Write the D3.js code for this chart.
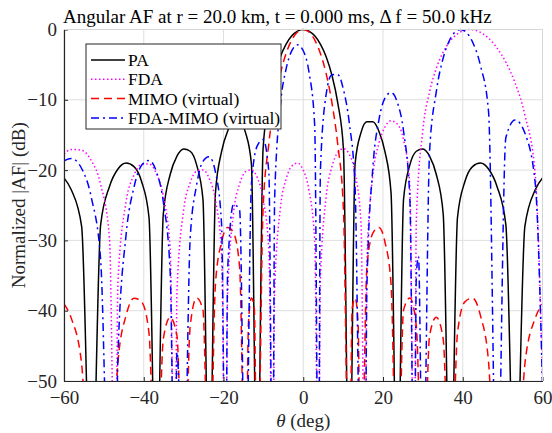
<!DOCTYPE html>
<html>
<head>
<meta charset="utf-8">
<script src="https://cdn.jsdelivr.net/npm/d3@7"></script>
<style>
  body { margin: 0; background: #fff; }
  svg { display: block; font-family: "Liberation Serif", "Times New Roman", serif; }
</style>
</head>
<body>
<div id="chart"></div>
<script>
// angle grid (deg) shared by all four patterns
const theta = [-60, -58.21, -55.58, -53.13, -50.81, -48.59, -46.47, -44.43, -42.45, -40.54, -38.68, -36.87,
  -35.10, -33.37, -31.67, -30, -28.36, -26.74, -25.15, -23.58, -22.02, -20.49, -18.97, -17.46, -15.96, -14.48,
  -13.00, -11.54, -10.08, -8.63, -7.18, -5.74, -4.30, -2.87, -1.43, 0, 1.43, 2.87, 4.30, 5.74, 7.18, 8.63, 10.08,
  11.54, 13.00, 14.48, 15.96, 17.46, 18.97, 20.49, 22.02, 23.58, 25.15, 26.74, 28.36, 30, 31.67, 33.37, 35.10,
  36.87, 38.68, 40.54, 42.45, 44.43, 46.47, 48.59, 50.81, 53.13, 55.58, 58.21, 60];

// normalized |AF| in dB, null = pattern zero (no finite value)
const pa = [-21.11, -22.77, -28.01, null, -27.79, -22.32, -19.85, -19.00, -19.50, -21.63, -26.74, null,
  -26.24, -20.63, -18.01, -16.99, -17.32, -19.26, -24.18, null, -23.24, -17.37, -14.47, -13.14, -13.13, -14.67,
  -19.13, null, -17.02, -10.37, -6.49, -3.89, -2.09, -0.90, -0.22, 0, -0.22, -0.90, -2.09, -3.89, -6.49, -10.37,
  -17.02, null, -19.13, -14.67, -13.13, -13.14, -14.47, -17.37, -23.24, null, -24.18, -19.26, -17.32, -16.99,
  -18.01, -20.63, -26.24, null, -26.74, -21.63, -19.50, -19.00, -19.85, -22.32, -27.79, null, -28.01, -22.77, -21.11];

const fda = [-17.72, -17.06, -17.18, -18.67, -22.03, -29.73, -35.93, -24.49, -20.70, -19.18, -19.13, -20.46,
  -23.67, -31.23, -37.29, -25.72, -21.79, -20.15, -19.98, -21.20, -24.29, -31.74, -37.69, -26.01, -21.97, -20.23,
  -19.95, -21.06, -24.04, -31.38, -37.21, -25.42, -21.28, -19.41, -19.01, -20.00, -22.86, -30.06, -35.76, -23.83,
  -19.53, -17.51, -16.95, -17.76, -20.43, -27.43, -32.91, -20.74, -16.18, -13.87, -12.99, -13.44, -15.69, -22.21,
  -27.13, -14.28, -8.89, -5.51, -3.21, -1.63, -0.62, -0.10, -0.02, -0.40, -1.24, -2.62, -4.65, -7.61, -12.14,
  -20.81, -49.7];

const mimo = [-39.03, -41.02, -47.58, null, -55.50, null, -47.28, -40.67, -38.22, -38.74, -43.20, null,
  -44.05, -40.93, -43.59, null, -42.22, -38.19, -39.92, null, -36.20, -30.23, -28.15, -28.96, -33.82, null,
  -38.18, null, -25.59, -16.24, -10.36, -6.27, -3.40, -1.47, -0.36, 0, -0.36, -1.47, -3.40, -6.27, -10.36, -16.24,
  -25.59, null, -38.18, null, -33.82, -28.96, -28.15, -30.23, -36.20, null, -39.92, -38.19, -42.22, null,
  -43.59, -40.93, -44.05, null, -43.20, -38.74, -38.22, -40.67, -47.28, null, -55.50, null, -47.58, -41.02, -39.03];

const fdaMimo = [-18.67, -18.34, -19.77, -23.94, -32.76, null, -46.38, -29.19, -22.44, -19.32, -18.62, -20.15,
  -24.50, -34.55, -45.89, null, -29.72, -22.11, -18.75, -18.11, -20.28, -27.62, -34.39, -24.85, -25.70, null,
  -22.02, -16.56, -15.64, -20.26, -24.11, -10.83, -5.61, -3.01, -2.18, -3.03, -6.02, -13.66, -20.09, -9.24,
  -6.43, -6.40, -8.55, -13.26, -22.50, null, -36.64, -19.59, -12.89, -9.76, -8.97, -10.34, -14.45, -24.16,
  -35.05, null, -17.49, -8.84, -4.04, -1.32, -0.11, -0.24, -1.77, -5.10, -11.69, null, -15.39, -12.87, -14.73,
  -22.09, -50.65];

// extra samples off the grid (nulls, peaks, narrow lobes)
const fdaExtraTheta = [-47.17, -32.23, -19.47, -7.66, 3.82, 15.47, 27.82, 41.81];
const fdaExtraDb = [null, null, null, null, null, null, null, 0];
const mimoExtraTheta = [-13.74, -12.27, 12.27, 13.74];
const mimoExtraDb = [-41.75, -39.73, -39.73, -41.75];
const fdaMimoExtraTheta = [-47.17, -32.23, -19.47, -7.66, 3.82, 15.47, 27.82, 28.90, 39.42];
const fdaMimoExtraDb = [null, null, null, null, null, null, null, -32.3, 0];

const seriesNames = ['PA', 'FDA', 'MIMO (virtual)', 'FDA-MIMO (virtual)'];
const xTicks = [-60, -40, -20, 0, 20, 40, 60];
const yTicks = [0, -10, -20, -30, -40, -50];

const width = 552, height = 433;
const plot = { left: 64, right: 542.5, top: 29.5, bottom: 381 };
const floorDb = -70; // where a pattern null is drawn (below the visible range)

const xScale = d3.scaleLinear().domain([-60, 60]).range([plot.left, plot.right]);
const yScale = d3.scaleLinear().domain([-50, 0]).range([plot.bottom, plot.top]);

const build = (th, db, exTh = [], exDb = []) =>
  th.map((t, i) => [t, db[i]])
    .concat(exTh.map((t, i) => [t, exDb[i]]))
    .sort((a, b) => a[0] - b[0]);

const series = [
  { name: seriesNames[0], pts: build(theta, pa), color: '#000000', dash: null },
  { name: seriesNames[1], pts: build(theta, fda, fdaExtraTheta, fdaExtraDb), color: '#ff00ff', dash: '1.5,2.5' },
  { name: seriesNames[2], pts: build(theta, mimo, mimoExtraTheta, mimoExtraDb), color: '#ff0000', dash: '8,5' },
  { name: seriesNames[3], pts: build(theta, fdaMimo, fdaMimoExtraTheta, fdaMimoExtraDb), color: '#0000ff', dash: '8,4,2,4' }
];

const svg = d3.select('#chart').append('svg')
  .attr('width', width)
  .attr('height', height);

/* grid */
svg.append('g').selectAll('line.gx')
  .data(xTicks)
  .enter().append('line')
  .attr('x1', d => xScale(d)).attr('x2', d => xScale(d))
  .attr('y1', plot.top).attr('y2', plot.bottom)
  .attr('stroke', '#dfdfdf').attr('stroke-width', 1);

svg.append('g').selectAll('line.gy')
  .data(yTicks)
  .enter().append('line')
  .attr('x1', plot.left).attr('x2', plot.right)
  .attr('y1', d => yScale(d)).attr('y2', d => yScale(d))
  .attr('stroke', '#dfdfdf').attr('stroke-width', 1);

/* curves */
svg.append('clipPath').attr('id', 'clip')
  .append('rect')
  .attr('x', plot.left).attr('y', plot.top - 1)
  .attr('width', plot.right - plot.left).attr('height', plot.bottom - plot.top + 1);

const line = d3.line()
  .x(d => xScale(d[0]))
  .y(d => yScale(d[1] === null ? floorDb : d[1]))
  .curve(d3.curveMonotoneX);

svg.append('g').attr('clip-path', 'url(#clip)')
  .selectAll('path')
  .data(series)
  .enter().append('path')
  .attr('d', d => line(d.pts))
  .attr('fill', 'none')
  .attr('stroke', d => d.color)
  .attr('stroke-width', 1.5)
  .attr('stroke-dasharray', d => d.dash);

/* axes */
const xAxis = svg.append('g')
  .attr('transform', 'translate(0,' + plot.bottom + ')')
  .call(d3.axisBottom(xScale).tickValues(xTicks).tickSizeInner(-4).tickSizeOuter(0).tickPadding(10));
const yAxis = svg.append('g')
  .attr('transform', 'translate(' + plot.left + ',0)')
  .call(d3.axisLeft(yScale).tickValues(yTicks).tickSizeInner(-4).tickSizeOuter(0).tickPadding(7));

[xAxis, yAxis].forEach(ax => {
  ax.attr('font-family', null);
  ax.select('.domain').attr('stroke', '#262626').attr('stroke-width', 1.2);
  ax.selectAll('.tick line').attr('stroke', '#262626');
  ax.selectAll('.tick text')
    .attr('fill', '#262626')
    .style('font-family', '"Liberation Serif", serif')
    .style('font-size', '19px');
});

// light box edges on top and right
svg.append('line')
  .attr('x1', plot.left).attr('x2', plot.right)
  .attr('y1', plot.top).attr('y2', plot.top)
  .attr('stroke', '#d6d6d6');
svg.append('line')
  .attr('x1', plot.right).attr('x2', plot.right)
  .attr('y1', plot.top).attr('y2', plot.bottom)
  .attr('stroke', '#d6d6d6');

/* labels */
svg.append('text')
  .attr('x', 63).attr('y', 23)
  .style('font-size', '19px')
  .attr('fill', '#000')
  .text('Angular AF at r = 20.0 km, t = 0.000 ms, \u0394 f = 50.0 kHz');

const xl = svg.append('text')
  .attr('x', (plot.left + plot.right) / 2).attr('y', 427)
  .attr('text-anchor', 'middle')
  .style('font-size', '19px')
  .attr('fill', '#262626');
xl.append('tspan').style('font-style', 'italic').text('\u03b8');
xl.append('tspan').text(' (deg)');

svg.append('text')
  .attr('transform', 'translate(25,' + (plot.top + plot.bottom) / 2 + ') rotate(-90)')
  .attr('text-anchor', 'middle')
  .style('font-size', '19px')
  .attr('fill', '#262626')
  .text('Normalized |AF| (dB)');

/* legend */
const lg = svg.append('g').attr('transform', 'translate(86,44)');
lg.append('rect')
  .attr('width', 195).attr('height', 85)
  .attr('fill', '#fff')
  .attr('stroke', '#262626').attr('stroke-width', 1);

const rows = lg.selectAll('g.row')
  .data(series)
  .enter().append('g')
  .attr('transform', (d, i) => 'translate(0,' + (16 + i * 19.3) + ')');

rows.append('line')
  .attr('x1', 5).attr('x2', 39)
  .attr('stroke', d => d.color)
  .attr('stroke-width', 1.5)
  .attr('stroke-dasharray', d => d.dash);

rows.append('text')
  .attr('x', 42).attr('y', 6)
  .style('font-size', '17.5px')
  .attr('fill', '#000')
  .text(d => d.name);
</script>
</body>
</html>
